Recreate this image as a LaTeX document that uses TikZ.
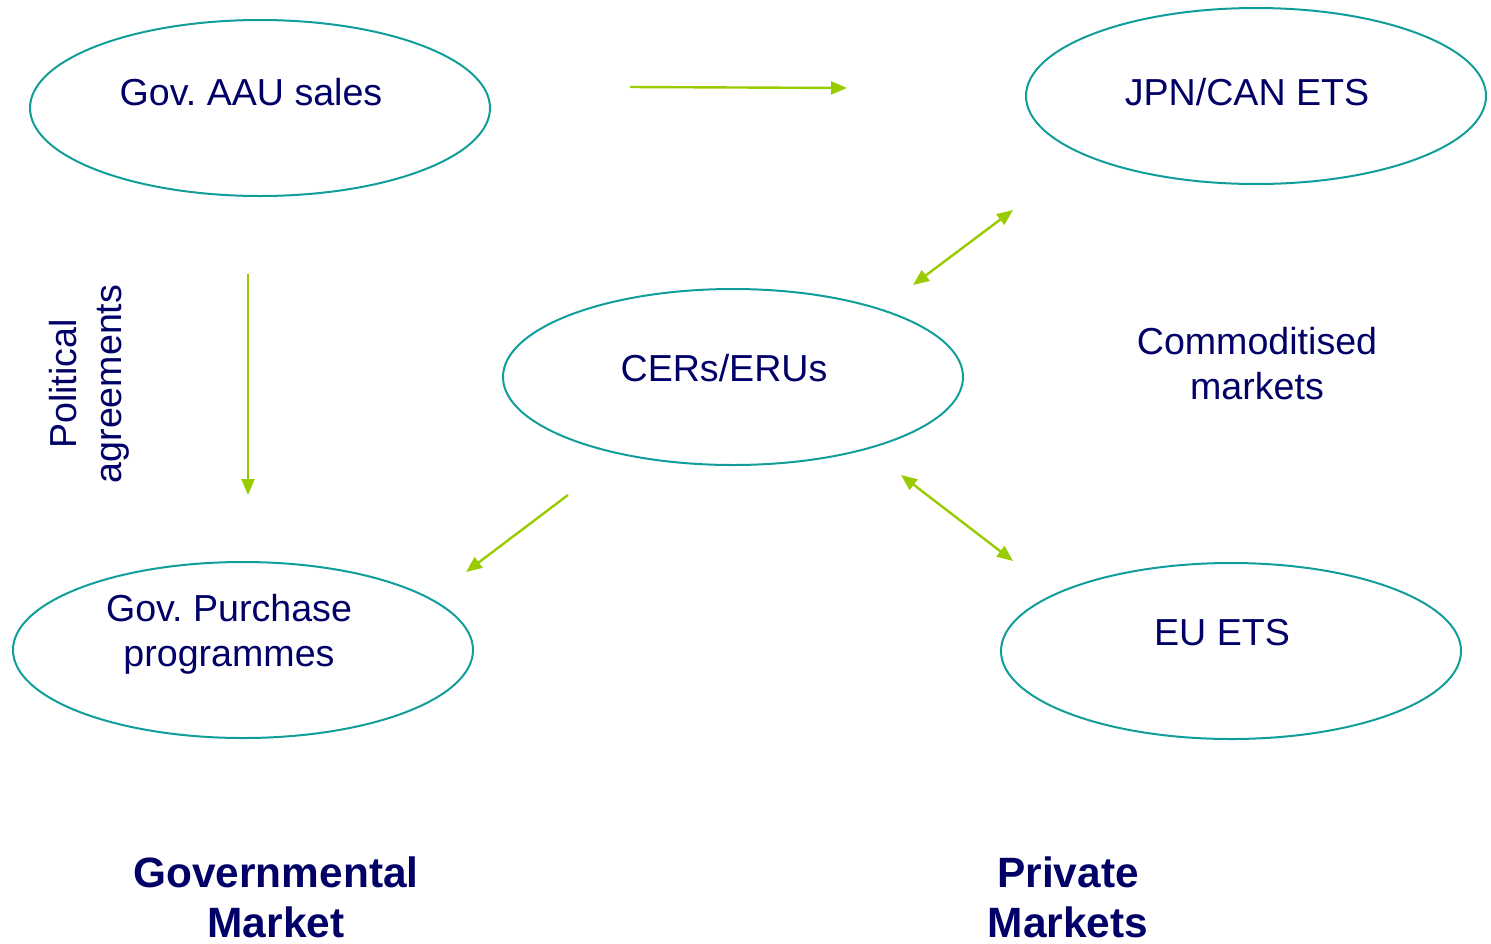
\documentclass[tikz,border=0pt]{standalone}
\usepackage{fontspec}
\setmainfont{Liberation Sans}
\frenchspacing
\usetikzlibrary{shapes.geometric,arrows.meta}
\definecolor{navy}{HTML}{000066}
\definecolor{teal}{HTML}{119E9A}
\definecolor{lime}{HTML}{99CC00}
\begin{document}
\begin{tikzpicture}[x=0.5pt,y=-0.5pt,
  market/.style={ellipse,draw=teal,line width=1pt,minimum width=230pt,minimum height=88pt,inner sep=0pt},
  flow/.style={draw=lime,line width=1.2pt,-{Triangle[length=8pt,width=6.5pt]}},
  both/.style={draw=lime,line width=1.2pt,{Triangle[length=8pt,width=6.5pt]}-{Triangle[length=8pt,width=6.5pt]}},
  note/.style={text=navy,font=\fontsize{18.8}{22.5}\selectfont,align=center,inner sep=0pt},
  heading/.style={text=navy,font=\fontsize{21.2}{25}\selectfont\bfseries,align=center}]
\useasboundingbox (0,0) rectangle (1491,943);

% markets
\node[market] (aau) at (260,108) {};
\node[market] (jpn) at (1256,96) {};
\node[market] (cer) at (733,377) {};
\node[market] (gpp) at (243,650) {};
\node[market] (eu) at (1231,651) {};

% market names, set slightly above and left of each centre
\node[note,xshift=-4.5pt,yshift=8pt] (aaut) at (aau) {Gov. AAU sales};
\node[note,xshift=-4.5pt,yshift=2pt] (jpnt) at (jpn) {JPN/CAN ETS};
\node[note,xshift=-4.5pt,yshift=4.5pt] (cert) at (cer) {CERs/ERUs};
\node[note,xshift=-7pt,yshift=8pt] (gppt) at (gpp) {Gov. Purchase\\programmes};
\node[note,xshift=-4.5pt,yshift=9pt] (eut) at (eu) {EU ETS};

% arrow end points
\coordinate (a1) at (630,87);   \coordinate (a2) at (847,88);
\coordinate (b1) at (248,274);  \coordinate (b2) at (248,495);
\coordinate (c1) at (913,285);  \coordinate (c2) at (1013,210);
\coordinate (d1) at (568,495);  \coordinate (d2) at (466,572);
\coordinate (e1) at (901,475);  \coordinate (e2) at (1013,561);

\draw[flow] (a1) -- (a2);
\draw[flow] (b1) -- (b2);
\draw[both] (c1) -- (c2);
\draw[flow] (d1) -- (d2);
\draw[both] (e1) -- (e2);

% labels
\node[note,rotate=90] (pol) at (89,384) {Political\\agreements};
\node[note] (com) at (1257,364) {Commoditised\\markets};
\node[heading] (gov) at (276,897) {Governmental\\Market};
\node[heading] (pri) at (1068,897) {Private\\Markets};
\end{tikzpicture}
\end{document}
